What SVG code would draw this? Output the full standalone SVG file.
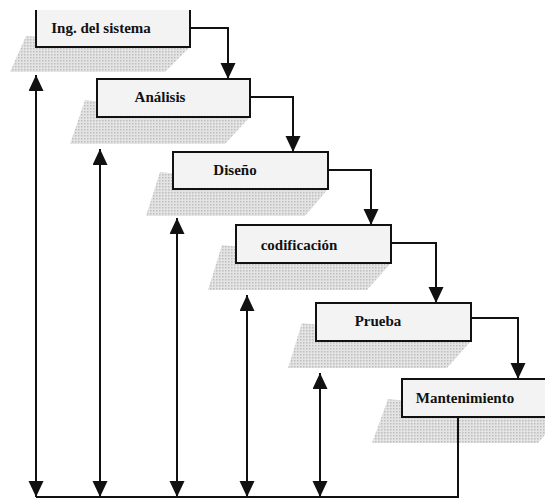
<svg xmlns="http://www.w3.org/2000/svg" width="545" height="502" viewBox="0 0 545 502">
<style>
.box{fill:#f3f3f3;stroke:#111;stroke-width:2}
.sh{fill:url(#dots);stroke:none}
.lbl{font-family:"Liberation Serif","Times New Roman",serif;font-size:15px;font-weight:bold;fill:#111;text-anchor:middle}
.c{fill:none;stroke:#111;stroke-width:2}
</style>
<defs>
<pattern id="dots" width="3" height="3" patternUnits="userSpaceOnUse">
<rect width="3" height="3" fill="#e4e4e4"/>
<rect width="1.5" height="1.5" fill="#bdbdbd"/>
</pattern>
<marker id="ah" markerUnits="userSpaceOnUse" markerWidth="16" markerHeight="16" refX="16" refY="7.5" orient="auto-start-reverse">
<path d="M0,0 L16,7.5 L0,15 Z" fill="#111"/>
</marker>
</defs>
<g id="n1">
<polygon class="sh" points="26,36 190,47 165,72 10,72"/>
<rect x="36" y="10" width="154" height="37" fill="#f3f3f3"/>
<path d="M36,10 V47 H190 V10" fill="none" stroke="#111" stroke-width="2"/>
<text class="lbl" x="101" y="33">Ing. del sistema</text>
</g>
<g id="n2">
<polygon class="sh" points="85,100 250,117 225,144 70,144"/>
<rect class="box" x="97" y="79" width="153" height="38"/>
<text class="lbl" x="160" y="102">Análisis</text>
</g>
<g id="n3">
<polygon class="sh" points="160,172 328,189 305,216 146,216"/>
<rect class="box" x="173" y="152" width="155" height="37"/>
<text class="lbl" x="235" y="175">Diseño</text>
</g>
<g id="n4">
<polygon class="sh" points="222,245 391,263 367,290 208,290"/>
<rect class="box" x="236" y="225" width="155" height="38"/>
<text class="lbl" x="299" y="250">codificación</text>
</g>
<g id="n5">
<polygon class="sh" points="302,323 471,341 447,368 288,368"/>
<rect class="box" x="316" y="303" width="155" height="38"/>
<text class="lbl" x="378" y="326">Prueba</text>
</g>
<g id="n6">
<polygon class="sh" points="388,399 560,417 538,443 372,443"/>
<rect class="box" x="402" y="379" width="160" height="38"/>
<text class="lbl" x="465" y="403">Mantenimiento</text>
</g>
<g id="connectors">
<path class="c" d="M190,28 H228 V79" marker-end="url(#ah)"/>
<path class="c" d="M250,97 H293 V152" marker-end="url(#ah)"/>
<path class="c" d="M328,170 H371 V225" marker-end="url(#ah)"/>
<path class="c" d="M391,243 H436 V303" marker-end="url(#ah)"/>
<path class="c" d="M471,318 H518 V379" marker-end="url(#ah)"/>
<path class="c" d="M458,417 V497 H36"/>
<path class="c" d="M36,75 V497" marker-start="url(#ah)" marker-end="url(#ah)"/>
<path class="c" d="M100,149 V497" marker-start="url(#ah)" marker-end="url(#ah)"/>
<path class="c" d="M177,218 V497" marker-start="url(#ah)" marker-end="url(#ah)"/>
<path class="c" d="M247,295 V497" marker-start="url(#ah)" marker-end="url(#ah)"/>
<path class="c" d="M320,373 V497" marker-start="url(#ah)" marker-end="url(#ah)"/>
</g>
</svg>
